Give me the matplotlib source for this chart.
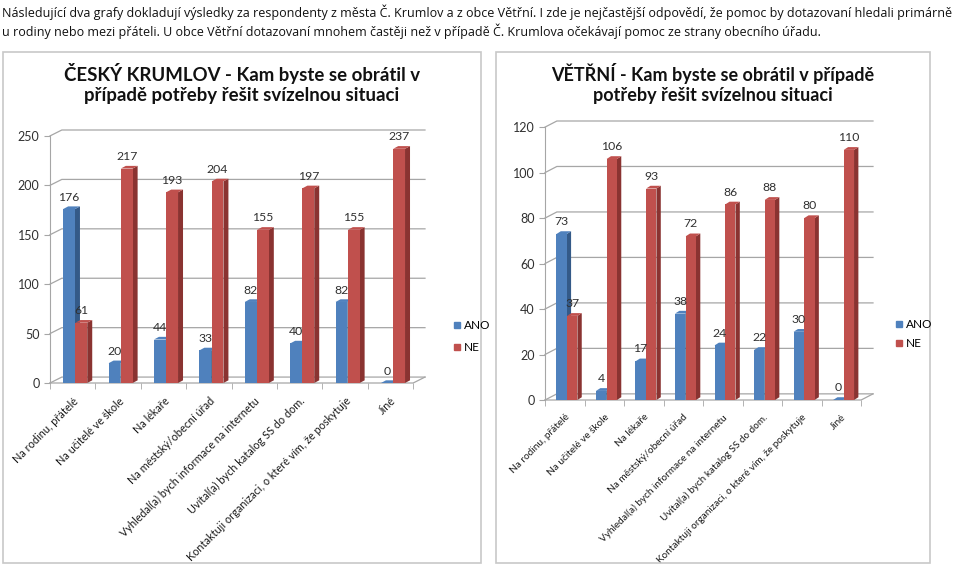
import numpy as np
import matplotlib
matplotlib.use("Agg")
import matplotlib.pyplot as plt
from matplotlib.patches import Polygon, Rectangle
from matplotlib.lines import Line2D

# data
categories = ["Na rodinu, přátelé", "Na učitelé ve škole", "Na lékaře",
              "Na městský/obecní úřad", "Vyhledal(a) bych informace na internetu",
              "Uvítal(a) bych katalog SS do dom.",
              "Kontaktuji organizaci, o které vím, že poskytuje", "Jiné"]
krumlov_ano = [176, 20, 44, 33, 82, 40, 82, 0]
krumlov_ne = [61, 217, 193, 204, 155, 197, 155, 237]
vetrni_ano = [73, 4, 17, 38, 24, 22, 30, 0]
vetrni_ne = [37, 106, 93, 72, 86, 88, 80, 110]

intro = ("Následující dva grafy dokladují výsledky za respondenty z města Č. Krumlov a z obce Větřní. "
         "I zde je nejčastější odpovědí, že pomoc by dotazovaní hledali primárně\n"
         "u rodiny nebo mezi přáteli. U obce Větřní dotazovaní mnohem častěji než v případě "
         "Č. Krumlova očekávají pomoc ze strany obecního úřadu.")

BLUE = "#4F81BD"
BLUE_D = "#345A88"
RED = "#C0504D"
RED_D = "#8A3331"
TXT = "#303030"
GRID = "#A6A6A6"
FONT = "Lato"

W, H = 960, 566
fig = plt.figure(figsize=(W / 100, H / 100), dpi=100)
fig.patch.set_facecolor("white")

fig.text(2 / W, 1 - 4 / H, intro, ha="left", va="top", fontsize=9.0,
         family="Open Sans", color="#111111", linespacing=1.35)


def px_ax(x0, y0, x1, y1):
    return fig.add_axes([x0 / W, 1 - y1 / H, (x1 - x0) / W, (y1 - y0) / H])


def chart(box, axbox, title, tsize, ano, ne, ymax, ystep, wall, lsize, legpos):
    # outer frame
    fig.patches.append(Rectangle((box[0] / W, 1 - box[3] / H), (box[2] - box[0]) / W,
                                 (box[3] - box[1]) / H, transform=fig.transFigure,
                                 fill=False, edgecolor="#C8C8C8", lw=1.2))
    fig.text((box[0] + box[2]) / 2 / W, 1 - (box[1] + 11) / H, title, ha="center", va="top",
             fontsize=tsize, fontweight="bold", family=FONT, color="#111111",
             linespacing=1.25)
    ax = px_ax(*axbox)
    n = len(categories)
    x = np.arange(n)
    dxw, dyw = wall  # back wall offset (perspective)
    bw = 0.26
    dx = 0.11
    dy = dyw * 0.45
    ticks = np.arange(0, ymax + 1, ystep)

    # back wall gridlines + floor
    for t in ticks:
        ax.plot([-0.5, -0.5 + dxw, n - 0.5 + dxw], [t, t + dyw, t + dyw], color=GRID,
                lw=0.9, zorder=1, clip_on=False)
    ax.plot([-0.5, n - 0.5, n - 0.5 + dxw], [0, 0, dyw], color=GRID, lw=0.9, zorder=1,
            clip_on=False)

    for vals, off, c, cd in ((ano, -0.08, BLUE, BLUE_D), (ne, 0.19, RED, RED_D)):
        for xi, v in zip(x, vals):
            xl = xi + off - bw / 2
            xr = xi + off + bw / 2
            ax.add_patch(Polygon([(xr, 0), (xr + dx, dy), (xr + dx, v + dy), (xr, v)],
                                 closed=True, facecolor=cd, edgecolor="none", zorder=3))
            ax.add_patch(Polygon([(xl, v), (xl + dx, v + dy), (xr + dx, v + dy), (xr, v)],
                                 closed=True, facecolor=c, edgecolor="none", zorder=3))
        ax.bar(x + off, vals, width=bw, color=c, zorder=4)
        for xi, v in zip(x, vals):
            ax.text(xi + off, v + dy + ymax * 0.015, str(v), ha="center",
                    va="bottom", fontsize=8.8, color=TXT, family=FONT, zorder=5)

    ax.set_xlim(-0.5, n - 0.5 + dxw)
    ax.set_ylim(0, ymax + dyw)
    ax.set_yticks(ticks)
    ax.set_xticks(x)
    ax.set_xticks(np.arange(n + 1) - 0.5, minor=True)
    ax.set_xticklabels(categories, rotation=45, ha="right", va="top", rotation_mode="anchor",
                       fontsize=lsize, color="#1A1A1A", family=FONT)
    ax.tick_params(axis="x", which="major", length=0, pad=9)
    ax.tick_params(axis="x", which="minor", length=4, color=GRID)
    ax.tick_params(axis="y", labelsize=9, colors=TXT, length=4, color=GRID)
    for lab in ax.get_yticklabels():
        lab.set_family(FONT)
        lab.set_color(TXT)
    for s in ("top", "right", "bottom"):
        ax.spines[s].set_visible(False)
    ax.spines["left"].set_color(GRID)
    ax.spines["left"].set_bounds(0, ymax)
    handles = [Line2D([], [], marker="s", ls="none", color=BLUE, markersize=5),
               Line2D([], [], marker="s", ls="none", color=RED, markersize=5)]
    fig.legend(handles, ["ANO", "NE"], loc="center left",
               bbox_to_anchor=(legpos[0] / W, 1 - legpos[1] / H), frameon=False,
               handletextpad=0.1, labelspacing=legpos[2], handlelength=1.0,
               prop={"family": FONT, "size": 8.5})
    return ax


chart((3, 52, 481, 563), (50, 130, 425, 383),
      "ČESKÝ KRUMLOV - Kam byste se obrátil v\npřípadě potřeby řešit svízelnou situaci",
      13.4, krumlov_ano, krumlov_ne, 250, 50, (0.26, 6), 7.8, (440, 336.5, 0.95))
chart((496, 52, 930, 563), (545, 121, 873, 400),
      "VĚTŘNÍ - Kam byste se obrátil v případě\npotřeby řešit svízelnou situaci",
      13.0, vetrni_ano, vetrni_ne, 120, 20, (0.3, 2.7), 7.2, (882, 334, 0.7))

fig.savefig("out.png", dpi=100, facecolor="white")
